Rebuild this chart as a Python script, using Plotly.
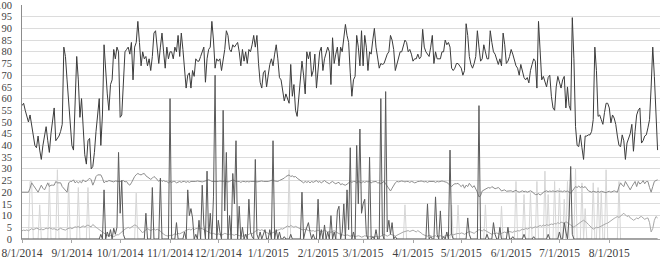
import pandas as pd
import plotly.graph_objects as go

START = "2014-08-01"
END = "2015-08-31"

# Dark upper series (daily)
humidity = [
    57, 58, 55, 52, 50, 53, 48, 44, 40, 39,
    44, 38, 34, 40, 45, 48, 42, 37, 45, 52,
    56, 42, 43, 44, 46, 49, 82, 78, 68, 57,
    46, 40, 38, 61, 78, 68, 52, 60, 48, 36,
    32, 42, 43, 30, 31, 37, 46, 55, 60, 40,
    53, 83, 71, 62, 55, 66, 68, 81, 77, 82,
    80, 52, 53, 67, 80, 81,
    82, 79, 84, 68, 82, 84, 93, 84, 74, 80,
    77, 78, 74, 77, 72, 78, 88, 89, 80, 75,
    82, 88, 80, 73, 82, 77, 80, 80, 77, 82,
    80, 87, 78, 88, 81, 72, 64.5, 70, 71, 64.5,
    72, 69.5, 77, 76, 76, 78, 80, 82, 67, 77,
    81, 82, 93, 85, 73, 77, 76, 77, 72, 77,
    81, 89, 87, 81, 80, 83, 82, 83,
    84, 80, 74, 81, 76, 80, 75, 81, 80, 83,
    87, 82, 87, 75, 67, 64.5, 71, 72, 65, 70,
    74.6, 77, 74, 79, 83, 77, 69, 68, 64, 59,
    62, 59.5, 58, 74.6, 61, 66, 55, 52.4, 61, 70,
    76, 70, 62, 80, 77, 80, 69.5, 72, 79, 64.5,
    74, 80, 82, 72, 77, 80, 82, 80, 66, 86,
    75, 79, 82, 74, 82, 80, 85, 91.7,
    87, 84, 71, 61, 68, 69.5, 87, 82, 74, 89,
    74, 87, 82, 72, 80, 79, 85, 90, 82, 77,
    73, 75, 74.6, 75, 77, 79, 80, 87, 85, 81,
    72, 75, 77, 80, 80, 83, 85, 84, 80, 81,
    79, 76, 77, 77, 79, 77, 78, 89.6, 82, 80,
    79, 78, 82, 87, 75, 80, 77, 77, 77, 80,
    80, 85, 83, 84, 82, 73, 72, 73, 75,
    75, 74, 73, 70, 72, 92, 87, 78, 74.6, 73,
    75, 78, 89, 82, 76, 77, 83, 80, 77, 77,
    89, 84, 80, 79, 77, 74.6, 77, 74, 88, 83,
    75, 76, 78, 81, 79, 76, 74, 73, 70, 74.6,
    72, 69, 68, 69, 66.7, 72, 74.6, 77, 76, 64.5,
    93, 82, 68, 69.5, 67, 65, 69, 70, 61, 56,
    55, 65, 69.5, 67, 64.5, 68, 69.5, 56,
    65, 57, 55, 94.6, 77, 48, 40, 39.5, 44.5, 39,
    34, 44, 44, 44.5, 44.5, 46, 51, 82, 72, 52.4,
    53, 51, 49, 54, 58, 58, 56, 49.6, 53, 51.7,
    49, 44, 40, 39.5, 44.5, 42, 34, 41, 43, 45,
    49, 37.5, 46, 53, 55, 56, 41, 42, 44, 44.5,
    47.5, 51, 65, 82, 69.5, 52.4, 38,
]

# Medium grey series around 20-28 (daily)
temperature = [
    20, 20, 20, 20, 20, 21.7, 24, 23, 21.7, 21,
    20, 21.7, 23, 21.7, 21, 22.4, 24, 22.4, 23, 23,
    23, 24.6, 24, 24, 24, 22.4, 21.7, 21, 20, 24,
    24.6, 24.6, 25.3, 24, 24.6, 24, 24.6, 24, 25.3, 24.6,
    24.6, 25.3, 26, 25.3, 23, 24.6, 26.7, 27.4, 27.4, 27.4,
    26, 24, 24.6, 24.5, 25, 24.8, 24.6, 24.4, 24.8, 24.6,
    24.4, 24.5, 24.8, 25, 24.4, 24.6, 23.5, 23, 24, 25.5,
    26.7, 27.5, 28, 27.6, 27.4, 27.8, 28, 27, 26.5, 26,
    25.5, 26, 26.7, 26.2, 25.3, 24.6, 25.3, 24.6, 25, 24.6,
    24.6, 24, 24.6, 24.2, 24.6, 24.6, 24, 24.4, 24.6, 24.2,
    24.6, 24.6, 24.2, 24.6, 24.2, 24.6, 24.6, 24.4, 24.6, 24.8,
    24.6, 24.6, 24.4, 24.6, 24.8, 25, 25.3, 25, 24.6, 24.6,
    24.6, 24.4, 24.6, 24.8, 24.6, 24.6, 24.8, 24.6, 24.4, 24.6,
    25, 25.3, 25, 24.6, 24.6, 24.6, 24.2, 24.6, 24.6, 24.4,
    24.6, 24.4, 24.6, 24.6, 24.8, 24.6, 24.4, 24.6, 24.6, 24.8,
    24.6, 24.6, 24.4, 24.6, 24.8, 25, 25.3, 24.8, 24.6, 24.6,
    25, 25.3, 25.6, 26, 26.7, 27, 27.4, 26.7, 27, 26.5,
    26.7, 26, 25.5, 25, 24.6, 24, 24.6, 24.2, 24.6, 24,
    24.6, 24.2, 24.6, 25, 24.2, 24.6, 24, 24.6, 25, 24.4,
    24, 23.6, 24.2, 24.6, 24, 23.6, 24, 24.2, 23.2, 23.6,
    23.2, 23, 23.4, 24, 24.6, 24.2, 24.6, 24.6, 24, 24.6,
    24.4, 24, 24.6, 24.2, 24.6, 24.4, 24.6, 24, 24.4, 24.6,
    24.6, 24, 24, 23.6, 24, 24.6, 23.6, 22.6, 21.5, 20.5,
    21.7, 23, 24, 24.6, 24.4, 24.6, 24.8, 24.6, 24.4, 24.6,
    24.6, 24.2, 24.6, 24.4, 24, 24.2, 24.6, 24.6, 24.8, 24.6,
    24.4, 24.6, 24.2, 24.6, 24.6, 24.8, 24.6, 24.2, 24.6, 24.4,
    24.6, 24.8, 24.6, 24.4, 24.2, 23.6, 23, 22.4, 23.2, 23.6,
    23.6, 23.8, 23, 22.4, 23.2, 21.7, 23, 22.4, 23.8, 22.6,
    22, 22.8, 21.7, 20, 18, 18.5, 20.5, 21, 21.5, 21.7,
    22, 21.7, 22.4, 22, 21.5, 21.7, 22, 21.4, 20.5, 20.8,
    21, 20.4, 20.5, 20.3, 20.6, 20.2, 20.5, 20.8, 20.3, 20,
    20.3, 20.6, 20.2, 20.4, 20, 20.3, 20.6, 20.2, 19.5, 19,
    19, 19.4, 18.8, 19.2, 20, 20.3, 20.6, 20.2, 20.5, 20.3,
    20.6, 20.2, 20.4, 20.6, 20.3, 20.5, 20.2, 20.6, 20.3, 20.5,
    20, 19.6, 20.5, 21.5, 22.4, 22, 22.6, 22, 22.4, 22,
    22.4, 21.5, 20.6, 20.3, 20, 20.4, 20.2, 20, 20.3, 20,
    20.4, 20.2, 20, 19.8, 20.2, 20.4, 20, 20.2, 20.6, 20.3,
    20, 22.4, 24, 23, 22.4, 24.6, 23.5, 22, 21, 22.4,
    23.5, 24.6, 22.4, 24.6, 23.5, 24, 25, 23.6, 24.6, 24.6,
    22, 20, 22.4, 24.6, 25, 25.3,
]

# Light low series, 0-11 (daily)
wind = [
    3.5, 3.8, 3.6, 3.9, 3.5, 4, 4.4, 4, 4.2, 4.6,
    4.4, 4, 4.3, 3.9, 4.2, 4.6, 4.4, 4.8, 4.5, 4.2,
    4.4, 4, 3.8, 4.2, 4.6, 4.2, 4, 3.8, 4.3, 4.6,
    4.8, 4.4, 4.9, 5.2, 5, 5.4, 4.8, 5.2, 5.6, 5.2,
    5.8, 6, 5.5, 5.2, 6.2, 5.4, 5, 4.5, 4, 3.4,
    2.8, 2.2, 1.8, 1.5, 1.2, 1.5, 1.2, 1, 1.4, 1.8,
    1.8, 2.5, 3.2, 3.8, 4.2, 4.6, 5, 4.6, 5.2, 5.6,
    6, 5.8, 5, 4, 3, 2.6, 3.4, 4, 4.4, 4,
    3.6, 4, 4.4, 3.8, 4.2, 3.8, 3.4, 2.6, 2, 1.6,
    1.4, 1.2, 1.6, 1.4, 1.8, 2.2, 2, 2.4, 2.2, 2.6,
    3, 3.4, 3.6, 4, 4.2, 3.8, 4.4, 4, 4.4, 4.6,
    4.2, 4.6, 4.4, 4, 3.6, 3.2, 2.8, 2.4, 2.2, 2.4,
    2, 1.8, 2.2, 2, 1.6, 2, 2.4, 2.2, 1.8, 2,
    2.2, 1.8, 1.6, 2, 1.8, 1.4, 1.6, 1.2, 1.6, 1.8,
    1.6, 2, 2.4, 2.2, 2.8, 3.2, 3.8, 4, 3.6, 4,
    3.6, 3, 2.6, 2.2, 2, 2.4, 2.8, 3.2, 3.6, 3.8,
    4, 4.4, 4.2, 4.8, 5.2, 5.6, 5.2, 5.8, 5.4, 5,
    5.4, 5, 4.6, 4.2, 4, 3.8, 4.2, 4, 3.6, 3.8,
    3.4, 3.6, 3.2, 3.6, 3.8, 3.4, 3, 3.4, 3.8, 3.4,
    3, 3.2, 2.8, 3.2, 3.6, 3, 2.6, 2.4, 2, 1.8,
    1.6, 1.4, 1.8, 1.4, 1.2, 1.6, 1.4, 1, 1.2, 1.4,
    1.2, 0.8, 1, 1.4, 1.2, 0.8, 1, 1.2, 0.8, 1,
    1.2, 1, 0.8, 1.2, 1.6, 2, 1.6, 1.2, 1.6, 2,
    1.8, 1.4, 1.2, 1.6, 2, 2.4, 2.8, 3, 3.2, 3.4,
    3.6, 3.2, 3.4, 3.8, 3.4, 3, 3.6, 3.2, 2.6, 2,
    1.6, 1.4, 1.2, 1.6, 1.4, 1, 1.2, 1.4, 1, 1.2,
    1.4, 1.2, 1, 1.4, 1.6, 1.2, 1.8, 2.2, 1.8, 2,
    2, 2.4, 2.2, 2.6, 2.4, 2, 2.4, 2.8, 3.2, 3,
    2.6, 2.4, 3, 3.6, 4, 3.8, 3.4, 4, 3.6, 3.2,
    2.8, 2.4, 2, 2.4, 2.2, 2.6, 2.4, 2, 2.4, 2.8,
    3, 2.6, 2.8, 3.2, 3, 2.8, 3.4, 3.2, 3.6, 3.4,
    3.8, 4.2, 4, 4.6, 4.2, 4.6, 5, 4.6, 4.8, 5.2,
    5, 5.4, 5.8, 5.4, 6, 5.6, 6.2, 5.8, 6, 6.4,
    6.2, 6.6, 6.4, 7, 6.6, 7.2, 7, 6.6, 7.4, 7,
    6.6, 6, 5.4, 5, 5.6, 6.2, 6.8, 7.2, 7.6, 8,
    7.6, 7, 6.2, 5.4, 4.8, 4.2, 4.6, 5, 4.8, 5.2,
    5.4, 5.8, 6.2, 6.6, 6.8, 7.4, 7.8, 8.4, 8.8, 9.2,
    9.6, 9.2, 10, 10.4, 11, 10.2, 9.6, 10, 9, 8.6,
    8, 8.4, 9, 8.6, 9.4, 9.6, 9, 8.4, 8.8, 9,
    7, 3, 4.5, 8, 9.6, 9,
]

# Dark spiky series: day offset from START and value (0 on other days)
rain_days = [49, 51, 53, 54, 55, 57, 58, 59, 60, 61, 62, 63,
             77, 81, 86, 92, 96, 101, 103, 104, 105, 106, 108, 110, 112, 113,
             115, 117, 119, 120, 122, 123, 125, 126, 127, 129, 131, 132, 133,
             135, 137, 139, 141, 142, 143, 145, 146, 148, 150, 151, 154, 156,
             158, 160, 163, 167, 174, 176, 177, 178, 179, 181, 184, 186, 188,
             190, 192, 194, 196, 197, 199, 200, 202, 203, 204, 206, 208, 209,
             210, 211, 212, 213, 214, 216, 218, 220, 223, 224, 226, 227, 228,
             229, 230, 232, 252, 254, 257, 258, 260, 262, 264, 266, 267,
             277, 278, 284, 289, 293, 294, 297, 302, 305, 312, 318, 327, 334,
             337, 338, 340, 341, 342]
rain_vals = [2, 21, 3, 1, 4, 4.6, 2, 5, 37, 11, 25, 2,
             11, 22, 26, 60, 7, 3, 21, 10, 13, 9, 2, 8, 23, 6,
             29, 11, 18, 70, 8, 3, 55, 12, 37, 10, 28, 15, 42,
             14, 5, 2, 17, 3, 1, 34, 2, 3, 2, 4, 4, 42,
             4, 3, 1, 2, 20, 3, 5, 7, 3, 2, 17, 4, 6,
             3, 10, 3, 12, 14, 3, 15, 21, 4, 39, 3, 40, 15,
             47, 11, 15, 17, 2, 35, 1, 4, 60, 2, 63, 3, 8,
             2, 7, 1, 15, 1, 18, 2, 12, 1, 3, 38, 2,
             9, 2, 57, 2, 7, 2, 5, 5, 1, 2, 1, 2, 3,
             7, 3, 9, 31, 2]

# Light spiky series: day offset and value (0 on other days)
spike_days = [5, 6, 11, 17, 22, 29, 35, 41, 71, 166, 238, 267, 271,
              288, 298, 307, 312, 316, 320, 325, 327, 331, 334, 337, 339,
              344, 348, 350, 355, 358, 360, 363, 371]
spike_vals = [24.6, 24.6, 14.6, 24, 29.6, 24, 22, 22, 19.6, 29.6, 14.6, 14.5, 14.5,
              14.6, 14, 24.6, 19, 19.6, 24.6, 29, 19, 24.6, 21.7, 17, 24.6,
              30, 24, 13, 24, 22, 20, 29.6, 24.6]

tick_labels = ["8/1/2014", "9/1/2014", "10/1/2014", "11/1/2014", "12/1/2014",
               "1/1/2015", "2/1/2015", "3/1/2015", "4/1/2015", "5/1/2015",
               "6/1/2015", "7/1/2015", "8/1/2015"]

dates = pd.date_range(START, END, freq="D")


def daily(days, vals):
    out = [0.0] * len(dates)
    for d, v in zip(days, vals):
        out[d] = v
    return out


rain = daily(rain_days, rain_vals)
light = daily(spike_days, spike_vals)

fig = go.Figure()
fig.add_trace(go.Scatter(x=dates, y=light, mode="lines",
                         line=dict(color="#d6d6d6", width=1)))
fig.add_trace(go.Scatter(x=dates[:len(wind)], y=wind, mode="lines",
                         line=dict(color="#a8a8a8", width=1)))
fig.add_trace(go.Scatter(x=dates[:len(temperature)], y=temperature, mode="lines",
                         line=dict(color="#8c8c8c", width=1)))
fig.add_trace(go.Scatter(x=dates, y=rain, mode="lines",
                         line=dict(color="#5a5a5a", width=1)))
fig.add_trace(go.Scatter(x=dates[:len(humidity)], y=humidity, mode="lines",
                         line=dict(color="#3c3c3c", width=1)))

tickvals = pd.to_datetime(tick_labels, format="%m/%d/%Y")

fig.update_layout(
    width=667, height=266,
    margin=dict(l=22, r=7, t=5, b=27),
    paper_bgcolor="white", plot_bgcolor="white",
    showlegend=False,
    font=dict(family="Liberation Serif", size=11, color="#404040"),
    xaxis=dict(
        range=[pd.Timestamp(START), pd.Timestamp("2015-09-01 12:00")],
        tickvals=tickvals, ticktext=tick_labels, tickangle=0,
        tickfont=dict(size=11.5), automargin=False,
        showgrid=False, zeroline=False,
        showline=True, linecolor="#a6a6a6", linewidth=1,
        ticks="outside", ticklen=3, tickcolor="#a6a6a6",
    ),
    yaxis=dict(
        range=[0, 100], dtick=5, automargin=False,
        showgrid=True, gridcolor="#dcdcdc", gridwidth=1,
        zeroline=False,
        showline=True, linecolor="#8c8c8c", linewidth=1,
        ticks="", ticklabelstandoff=7, ticklabeloverflow="allow",
        tickfont=dict(size=10.5),
    ),
    shapes=[dict(type="line", xref="paper", yref="y", x0=0.002, x1=1, y0=100, y1=100,
                 line=dict(color="white", width=2), layer="between")],
)

fig.write_html("out.html")
